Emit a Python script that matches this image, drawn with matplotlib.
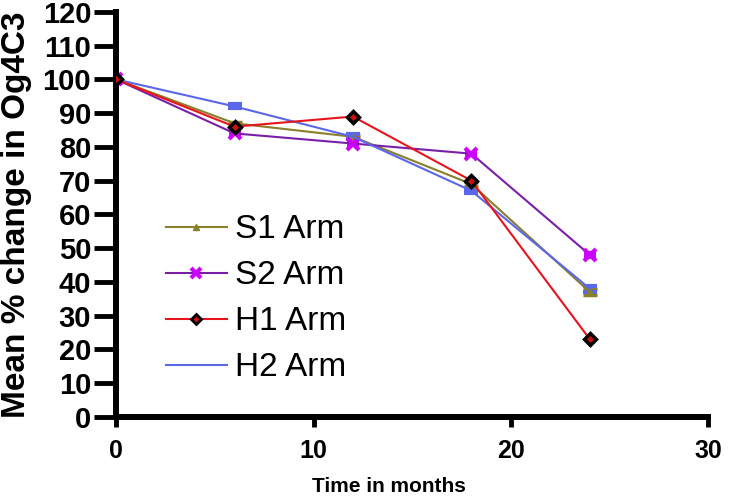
import numpy as np
import matplotlib.pyplot as plt
from matplotlib.lines import Line2D

plt.rcParams['font.family'] = ['Liberation Sans', 'DejaVu Sans']

months = [0, 6, 12, 18, 24]
s1 = [100, 87, 83, 69, 37]
s1_err = [0, 0.5, 0.5, 0.5, 0.8]
s2 = [100, 84, 81, 78, 48]
s2_err = [0, 0.3, 0.3, 0.3, 0.6]
h1 = [100, 86, 89, 70, 23]
h1_err = [0, 0.3, 0.3, 0.3, 0.3]
h2 = [100, 92, 83, 67, 38]
h2_err = [0, 0.6, 0.8, 0.6, 0.9]
labels = ['S1 Arm', 'S2 Arm', 'H1 Arm', 'H2 Arm']

c_s1 = '#8a7f2c'
c_s2 = '#7a1fa8'
c_s2m = '#cc00ff'
c_h1 = '#e8141c'
c_h2 = '#5a67e8'

fig = plt.figure(figsize=(7.4, 4.98), dpi=100)
ax = fig.add_axes([0.157, 0.163, 0.8, 0.813])

ax.errorbar(months, s1, yerr=s1_err, color=c_s1, lw=1.5, marker='^', ms=5,
            mfc=c_s1, mec=c_s1, capsize=5, capthick=2.5, elinewidth=1.5)
ax.errorbar(months, s2, yerr=s2_err, color=c_s2, lw=1.5, marker='x', ms=8,
            mec=c_s2m, mew=3, capsize=4, capthick=2, ecolor=c_s2m,
            elinewidth=1.5)
ax.errorbar(months, h1, yerr=h1_err, color=c_h1, lw=1.5, marker='D', ms=6,
            mfc='#cc1010', mec='black', mew=2.5, capsize=3, ecolor='black',
            elinewidth=1, zorder=4)
ax.errorbar(months, h2, yerr=h2_err, color=c_h2, lw=1.5, capsize=5,
            capthick=3, elinewidth=1.5)

ax.set_xlim(0, 30)
ax.set_ylim(0, 120)
ax.set_xticks([0, 10, 20, 30])
ax.set_yticks(np.arange(0, 121, 10))
for side in ['top', 'right']:
    ax.spines[side].set_visible(False)
for side in ['left', 'bottom']:
    ax.spines[side].set_linewidth(4.3)
ax.tick_params(axis='y', width=3.5, length=16, labelsize=21, pad=2)
ax.tick_params(axis='x', width=3.5, length=7, labelsize=18, pad=9)
for lbl in ax.get_xticklabels() + ax.get_yticklabels():
    lbl.set_fontweight('bold')

ax.set_ylabel('Mean % change in Og4C3', fontsize=24, fontweight='bold')
ax.yaxis.set_label_coords(-0.143, 0.5)
ax.set_xlabel('Time in months', fontsize=15, fontweight='bold')
ax.xaxis.set_label_coords(0.46, -0.148)

handles = [
    Line2D([], [], color=c_s1, lw=1.5, marker='^', ms=5, mfc=c_s1, mec=c_s1),
    Line2D([], [], color=c_s2, lw=1.5, marker='x', ms=7, mec=c_s2m, mew=3),
    Line2D([], [], color=c_h1, lw=1.5, marker='D', ms=5, mfc='#cc1010',
           mec='black', mew=2),
    Line2D([], [], color=c_h2, lw=1.5),
]
fig.legend(handles, labels, loc='center left', bbox_to_anchor=(0.224, 0.40),
           frameon=False, fontsize=24, handlelength=1.83, labelspacing=0.45,
           handletextpad=0.24, borderpad=0, borderaxespad=0)

fig.savefig('out.png', dpi=100)
